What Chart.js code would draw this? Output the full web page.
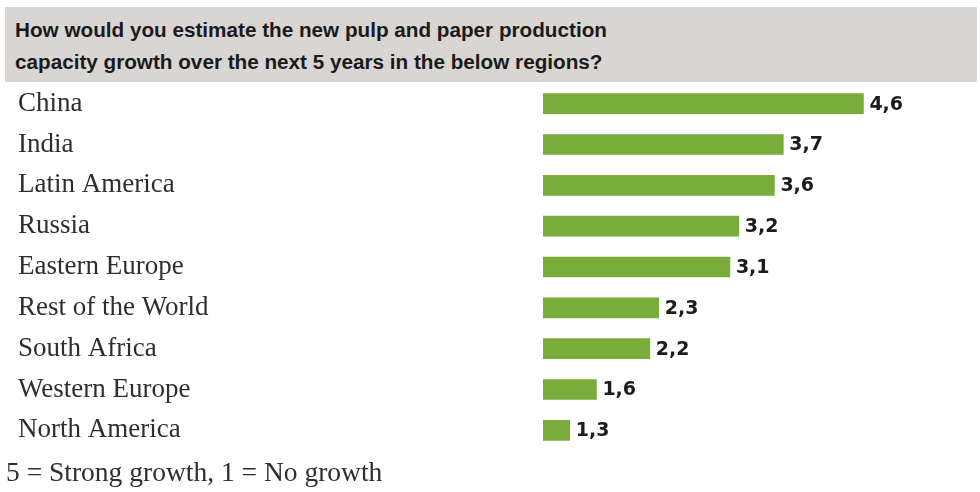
<!DOCTYPE html>
<html>
<head>
<meta charset="utf-8">
<script src="https://cdn.jsdelivr.net/npm/chart.js@4.4.1/dist/chart.umd.min.js"></script>
<style>
  body { margin: 0; background: #ffffff; width: 980px; height: 492px; position: relative; overflow: hidden; }
  .header {
    position: absolute; left: 5px; top: 7px; width: 972px; height: 75px;
    background: #d9d5d3;
  }
  .header span {
    position: absolute; left: 10px; top: 7px; white-space: nowrap;
    font-family: "Liberation Sans", Arial, sans-serif;
    font-weight: bold; font-size: 20.7px; line-height: 32px; color: #1a1a1a;
  }
  .chart-box { position: absolute; left: 0; top: 67px; width: 980px; height: 400px; }
  .note {
    position: absolute; left: 6px; top: 456px;
    font-family: "Liberation Serif", "Times New Roman", serif; font-size: 27.5px; color: #2e2e2e;
  }
</style>
</head>
<body>
<div class="header"><span>How would you estimate the new pulp and paper production<br>capacity growth over the next 5 years in the below regions?</span></div>
<div class="chart-box"><canvas id="growthChart"></canvas></div>
<div class="note">5 = Strong growth, 1 = No growth</div>
<script>
const regions = ['China', 'India', 'Latin America', 'Russia', 'Eastern Europe',
                 'Rest of the World', 'South Africa', 'Western Europe', 'North America'];
const scores = [4.6, 3.7, 3.6, 3.2, 3.1, 2.3, 2.2, 1.6, 1.3];
const scaleRange = [1, 5];

// writes each score with a decimal comma just right of its bar
const valueLabels = {
    id: 'valueLabels',
    afterDatasetsDraw(chart) {
        const ctx = chart.ctx;
        const meta = chart.getDatasetMeta(0);
        ctx.save();
        ctx.font = 'bold 19px "DejaVu Sans", sans-serif';
        ctx.fillStyle = '#1c1c1c';
        ctx.textAlign = 'left';
        ctx.textBaseline = 'middle';
        meta.data.forEach((bar, i) => {
            const text = scores[i].toFixed(1).replace('.', ',');
            ctx.fillText(text, bar.x + 6, bar.y + 1);
        });
        ctx.restore();
    }
};

new Chart(document.getElementById('growthChart'), {
    type: 'bar',
    data: {
        labels: regions,
        datasets: [{
            data: scores,
            backgroundColor: '#79ac39',
            barThickness: 20,
            borderWidth: 0
        }]
    },
    options: {
        indexAxis: 'y',
        responsive: true,
        maintainAspectRatio: false,
        animation: false,
        layout: { padding: { left: 18, right: 81, top: 0, bottom: 0 } },
        plugins: {
            legend: { display: false },
            tooltip: { enabled: false }
        },
        scales: {
            x: {
                display: false,
                min: scaleRange[0],
                max: scaleRange[1]
            },
            y: {
                grid: { display: false, drawTicks: false },
                border: { display: false },
                ticks: {
                    crossAlign: 'far',
                    padding: 0,
                    color: '#2e2e2e',
                    font: { family: '"Liberation Serif", "Times New Roman", serif', size: 27 }
                },
                afterFit(scale) { scale.width = 525; }
            }
        }
    },
    plugins: [valueLabels]
});
</script>
</body>
</html>
